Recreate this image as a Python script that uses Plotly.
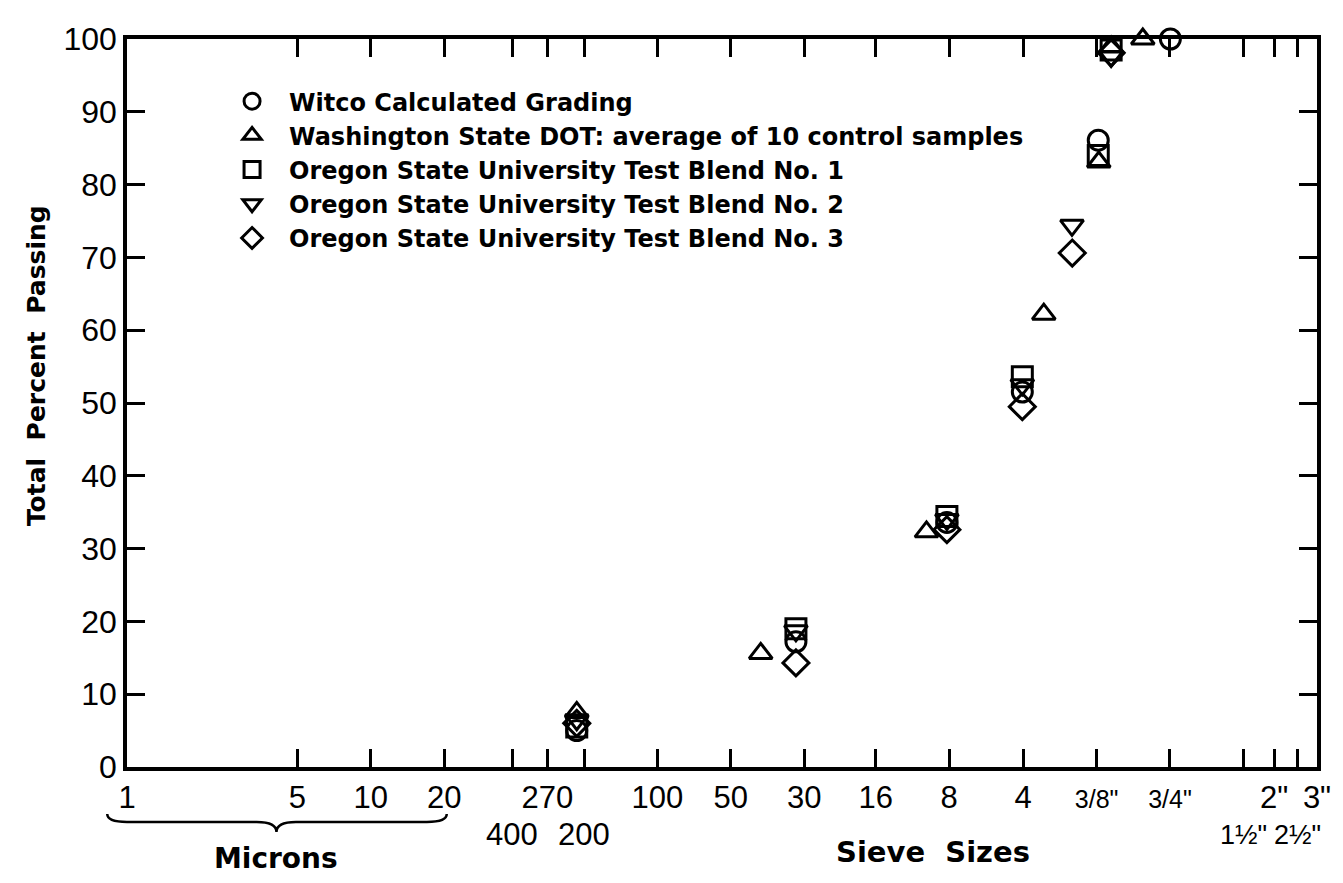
import numpy as np
import plotly.graph_objects as go

# ---- data (particle size in microns, percent passing) ----
witco_x = [70, 555, 2310, 4710, 9650, 19070]
witco_y = [5.0, 17.2, 33.6, 51.5, 86.1, 100]

wsdot_x = [70, 398, 1905, 5770, 9700, 10900, 14700]
wsdot_y = [7.5, 15.6, 32.3, 62.2, 83.1, 98.9, 100]

osu1_x = [70, 555, 2310, 4710, 9650, 10900]
osu1_y = [5.5, 19.0, 34.4, 53.6, 84.0, 98.5]

osu2_x = [70, 555, 2310, 4710, 7530, 10900]
osu2_y = [6.5, 18.7, 34.0, 52.5, 74.4, 97.6]

osu3_x = [70, 555, 2310, 4710, 7550, 10900]
osu3_y = [6.0, 14.3, 32.6, 49.5, 70.6, 98.1]

series_names = [
    "Witco Calculated Grading",
    "Washington State DOT: average of 10 control samples",
    "Oregon State University Test Blend No. 1",
    "Oregon State University Test Blend No. 2",
    "Oregon State University Test Blend No. 3",
]
series_symbols = ["circle-open", "triangle-up-open", "square-open",
                  "triangle-down-open", "diamond-open"]

# x-axis ticks (microns) and labels
x_tickvals = [1, 5, 10, 20, 38, 53, 75, 150, 300, 600, 1180, 2360, 4750,
              9500, 19000, 38100, 50800, 63500, 76200]
x_ticktext = ["1", "5", "10", "20", "", "270", "", "100", "50", "30", "16",
              "8", "4",
              "<span style='font-size:25px'>3/8\"</span>",
              "<span style='font-size:25px'>3/4\"</span>",
              "", "2\"", "", "3\""]
# second row of labels
row2_vals = [38, 75, 38100, 63500]
row2_text = ["400", "200", "1½\"", "2½\""]
row2_size = [31, 31, 27, 27]

y_tickvals = list(range(0, 101, 10))

FONT = "Liberation Sans"
BOLD = "DejaVu Sans"

fig = go.Figure()
xs = [witco_x, wsdot_x, osu1_x, osu2_x, osu3_x]
ys = [witco_y, wsdot_y, osu1_y, osu2_y, osu3_y]
for name, sym, x, y in zip(series_names, series_symbols, xs, ys):
    fig.add_trace(go.Scatter(
        x=x, y=y, mode="markers", name=name, cliponaxis=False,
        marker=dict(symbol=sym, size=20, color="black",
                    line=dict(width=3, color="black")),
    ))

annotations = []
for v, t, s in zip(row2_vals, row2_text, row2_size):
    annotations.append(dict(x=float(np.log10(v)), xref="x", y=-0.0934, yref="paper",
                            text=t, showarrow=False, xanchor="center", yanchor="middle",
                            font=dict(size=s, family=FONT, color="black")))
annotations += [
    dict(x=0.1256, y=-0.125, xref="paper", yref="paper", text="<b>Microns</b>",
         showarrow=False, xanchor="center", yanchor="middle",
         font=dict(size=28, family=BOLD, color="black")),
    dict(x=0.677, y=-0.117, xref="paper", yref="paper", text="<b>Sieve  Sizes</b>",
         showarrow=False, xanchor="center", yanchor="middle",
         font=dict(size=29, family=BOLD, color="black")),
    dict(x=-0.0765, y=0.552, xref="paper", yref="paper",
         text="<b>Total  Percent  Passing</b>", textangle=-90,
         showarrow=False, xanchor="center", yanchor="middle",
         font=dict(size=25, family=BOLD, color="black")),
]

brace = ("M -0.0166,-0.0646 Q -0.0166,-0.0755 0.0,-0.0755 L 0.109,-0.0755 "
         "Q 0.1256,-0.0755 0.1256,-0.0893 Q 0.1256,-0.0755 0.142,-0.0755 "
         "L 0.252,-0.0755 Q 0.2687,-0.0755 0.2687,-0.0646")

fig.update_layout(
    width=1343, height=883,
    margin=dict(l=127, r=14, t=39, b=116),
    paper_bgcolor="white", plot_bgcolor="white",
    font=dict(family=FONT, color="black"),
    showlegend=True,
    legend=dict(x=0.074, y=0.945, xanchor="left", yanchor="top",
                font=dict(size=24, family=BOLD, color="black", weight="bold"),
                itemwidth=64, bgcolor="rgba(0,0,0,0)", borderwidth=0),
    xaxis=dict(type="log", range=[0, float(np.log10(76200))],
               tickmode="array", tickvals=x_tickvals, ticktext=x_ticktext,
               ticks="inside", ticklen=18, tickwidth=3, tickcolor="black",
               showline=True, linewidth=3.5, linecolor="black", mirror="ticks",
               showgrid=False, zeroline=False,
               tickfont=dict(size=31, family=FONT, color="black")),
    yaxis=dict(range=[0, 100], tickmode="array", tickvals=y_tickvals,
               ticks="inside", ticklen=18, tickwidth=3, tickcolor="black",
               showline=True, linewidth=3.5, linecolor="black", mirror="ticks",
               showgrid=False, zeroline=False,
               tickfont=dict(size=32, family=FONT, color="black")),
    annotations=annotations,
    shapes=[dict(type="path", path=brace, xref="paper", yref="paper",
                 line=dict(color="black", width=2.5))],
)

fig.write_html("out.html")
